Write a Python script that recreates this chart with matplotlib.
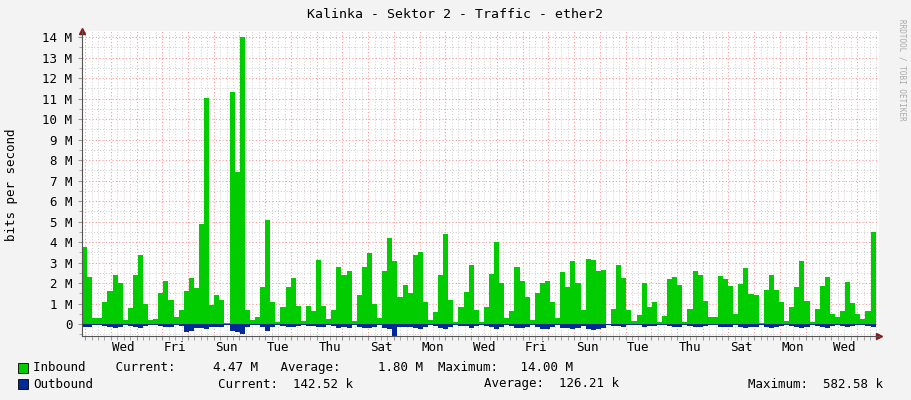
import numpy as np
import matplotlib.pyplot as plt
from matplotlib.ticker import MultipleLocator

# inbound traffic, Mbit/s, 4-hour steps
inbound = [3.75, 2.3, 0.3, 0.3, 1.1, 1.6, 2.4, 2.0, 0.2, 0.8, 2.4, 3.35, 1.0, 0.2, 0.25,
           1.5, 2.1, 1.2, 0.35, 0.7, 1.6, 2.25, 1.75, 4.9, 11.05, 0.95, 1.4, 1.2, 0.05,
           11.3, 7.4, 14.0, 0.7, 0.2, 0.35, 1.8, 5.1, 1.1, 0.1, 0.85, 1.8, 2.25, 0.9, 0.15,
           0.9, 0.65, 3.15, 0.9, 0.25, 0.7, 2.8, 2.4, 2.6, 0.15, 1.4, 2.8, 3.45, 1.0, 0.3,
           2.6, 4.2, 3.1, 1.3, 1.9, 1.5, 3.35, 3.5, 1.1, 0.2, 0.6, 2.4, 4.4, 1.2, 0.1, 0.85,
           1.55, 2.9, 0.7, 0.1, 0.85, 2.45, 4.0, 2.0, 0.3, 0.65, 2.8, 2.1, 1.3, 0.2, 1.5,
           2.0, 2.1, 1.1, 0.3, 2.55, 1.8, 3.1, 2.0, 0.7, 3.2, 3.15, 2.6, 2.65, 0.0, 0.75,
           2.9, 2.25, 0.7, 0.15, 0.45, 2.0, 0.85, 1.1, 0.1, 0.4, 2.2, 2.3, 1.9, 0.1, 0.75,
           2.6, 2.4, 1.15, 0.35, 0.35, 2.35, 2.2, 1.85, 0.5, 1.95, 2.75, 1.45, 1.4, 0.05,
           1.65, 2.4, 1.65, 1.1, 0.15, 0.85, 1.8, 3.1, 1.15, 0.1, 0.75, 1.85, 2.3, 0.5,
           0.35, 0.65, 2.05, 1.05, 0.5, 0.25, 0.65, 4.47]

# outbound traffic, kbit/s (drawn below zero)
outbound = [150, 120, 60, 60, 90, 160, 180, 150, 50, 90, 160, 170, 110, 50, 60,
            110, 150, 160, 60, 100, 380, 330, 200, 180, 250, 120, 150, 130, 40,
            330, 400, 500, 130, 50, 60, 120, 320, 140, 40, 80, 120, 150, 110, 40,
            100, 90, 160, 150, 60, 90, 180, 160, 170, 40, 120, 200, 210, 140, 60,
            170, 260, 582, 150, 140, 130, 170, 220, 120, 50, 80, 190, 250, 140, 40, 90,
            110, 180, 100, 40, 80, 160, 220, 160, 60, 90, 200, 190, 130, 50, 160,
            230, 260, 130, 60, 200, 180, 220, 170, 80, 250, 300, 220, 200, 30, 70,
            100, 120, 60, 30, 50, 150, 80, 90, 30, 60, 100, 150, 120, 30, 70,
            140, 160, 100, 50, 50, 120, 150, 150, 60, 150, 200, 150, 150, 30,
            130, 200, 140, 100, 30, 90, 160, 200, 120, 30, 90, 150, 170, 80,
            60, 80, 130, 110, 60, 50, 80, 143]

day_labels = ['Wed', 'Fri', 'Sun', 'Tue', 'Thu', 'Sat', 'Mon', 'Wed',
              'Fri', 'Sun', 'Tue', 'Thu', 'Sat', 'Mon', 'Wed']
label_days = np.arange(1, 30, 2) + 0.5

t_start, t_end = -0.12, 30.72
n = len(inbound)
x = np.linspace(t_start, t_end, n + 1)
inb = np.array(inbound + [inbound[-1]])
outb = -np.array(outbound + [outbound[-1]]) / 1000.0

bg = '#f3f3f3'
mono = 'DejaVu Sans Mono'
fs = 9
fig = plt.figure(figsize=(9.11, 4.0), dpi=100, facecolor=bg)
ax = fig.add_axes([82 / 911, 64 / 400, 797 / 911, 305 / 400])
ax.set_facecolor('white')

ax.fill_between(x, 0, inb, step='post', color='#00cc00', lw=0, zorder=2)
ax.fill_between(x, 0, outb, step='post', color='#002a97', lw=0, zorder=2)

ax.set_xlim(t_start, 30.85)
ax.set_ylim(-0.58, 14.3)

# grid
ax.xaxis.set_minor_locator(MultipleLocator(0.25))
ax.xaxis.set_major_locator(MultipleLocator(1))
ax.yaxis.set_minor_locator(MultipleLocator(0.5))
ax.set_yticks(np.arange(0, 15))
ax.grid(which='minor', color='#cccccc', ls=(0, (1, 2)), lw=0.7, zorder=0)
ax.grid(which='major', color='#ff9999', ls=(0, (1, 2)), lw=0.8, zorder=1)
ax.set_yticklabels(['0'] + [f'{v} M' for v in range(1, 15)], family=mono, fontsize=fs)
ax.set_xticklabels([])
ax.tick_params(which='both', length=3, color='#999999', pad=4)
ax.tick_params(axis='y', which='minor', length=2)
for d, lab in zip(label_days, day_labels):
    ax.text(d, -0.018, lab, transform=ax.get_xaxis_transform(), ha='center', va='top',
            family=mono, fontsize=fs)

for s in ['top', 'right']:
    ax.spines[s].set_visible(False)
ax.spines['left'].set_color('#555555')
ax.spines['bottom'].set_color('#555555')
ax.plot([t_start], [1.0], marker='^', color='#8b1a1a', ms=4, transform=ax.get_xaxis_transform(), clip_on=False)
ax.plot([1.0], [-0.58], marker='>', color='#8b1a1a', ms=4, transform=ax.get_yaxis_transform(), clip_on=False)

fig.text(455 / 911, 1 - 14 / 400, 'Kalinka - Sektor 2 - Traffic - ether2', ha='center', va='center',
         family=mono, fontsize=9.5)
fig.text(12 / 911, 1 - 185 / 400, 'bits per second', rotation=90, ha='center', va='center',
         family=mono, fontsize=fs)
fig.text(902 / 911, 1 - 70 / 400, 'RRDTOOL / TOBI OETIKER', rotation=270, ha='center', va='center',
         family=mono, fontsize=5.5, color='#aaaaaa')

# legend
for yy, col in [(368, '#00cc00'), (384, '#002a97')]:
    fig.patches.append(plt.Rectangle((18 / 911, 1 - (yy + 5) / 400), 10 / 911, 10 / 400,
                                     transform=fig.transFigure, facecolor=col, edgecolor='black', lw=0.6))
fig.text(33 / 911, 1 - 368 / 400,
         'Inbound    Current:     4.47 M   Average:     1.80 M  Maximum:   14.00 M',
         family=mono, fontsize=fs, va='center')
fig.text(33 / 911, 1 - 384 / 400, 'Outbound', family=mono, fontsize=fs, va='center')
fig.text(218 / 911, 1 - 384 / 400, 'Current:  142.52 k', family=mono, fontsize=fs, va='center')
fig.text(484 / 911, 1 - 384 / 400, 'Average:  126.21 k', family=mono, fontsize=fs, va='center')
fig.text(748 / 911, 1 - 384 / 400, 'Maximum:  582.58 k', family=mono, fontsize=fs, va='center')

fig.savefig('out.png', dpi=100, facecolor=bg)
